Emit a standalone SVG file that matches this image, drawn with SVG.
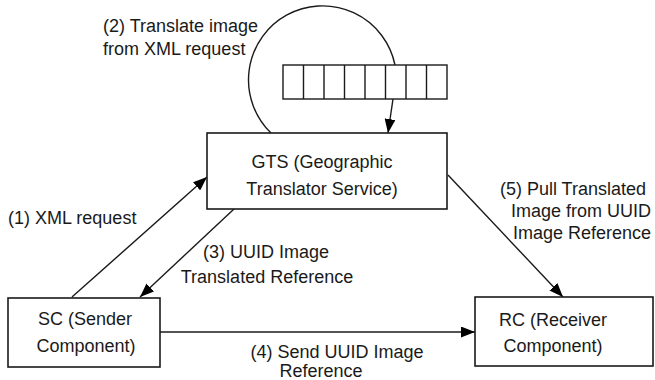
<svg xmlns="http://www.w3.org/2000/svg" width="655" height="380" viewBox="0 0 655 380">
<defs>
<marker id="ah" viewBox="0 0 14 11" refX="14" refY="5.5" markerWidth="14" markerHeight="11" markerUnits="userSpaceOnUse" orient="auto">
<path d="M0,0 L14,5.5 L0,11 Z" fill="#000"/>
</marker>
</defs>
<style>
text{font-family:"Liberation Sans",Arial,sans-serif;font-size:18px;fill:#1a1a1a}
.box{fill:#fff;stroke:#1a1a1a;stroke-width:1.6}
.c{text-anchor:middle}
.e{text-anchor:end}
.ln{fill:none;stroke:#1a1a1a;stroke-width:1.4}
.ar{fill:none;stroke:#1a1a1a;stroke-width:1.4;marker-end:url(#ah)}
</style>
<rect width="655" height="380" fill="#fff"/>
<g id="connectors">
<path class="ln" d="M271,133 A74,74 0 1 1 395,65"/>
<line class="ar" x1="393" y1="99" x2="388" y2="133"/>
<line class="ar" x1="72" y1="297" x2="207" y2="177"/>
<line class="ar" x1="234" y1="209" x2="140" y2="297"/>
<line class="ar" x1="160" y1="332" x2="475" y2="332"/>
<line class="ar" x1="448" y1="175" x2="563" y2="297"/>
</g>
<g id="queue">
<rect class="box" x="283" y="65" width="164" height="34" style="stroke-width:1.4"/>
<path class="ln" d="M303.5,65V99M324,65V99M344.5,65V99M365,65V99M385.5,65V99M406,65V99M426.5,65V99"/>
</g>
<g id="gts">
<rect class="box" x="207" y="133" width="240" height="76"/>
<text class="c" x="322" y="168">GTS (Geographic</text>
<text class="c" x="322" y="195">Translator Service)</text>
</g>
<g id="sc">
<rect class="box" x="8" y="298" width="152" height="69"/>
<text class="c" x="85" y="325">SC (Sender</text>
<text class="c" x="86" y="352">Component)</text>
</g>
<g id="rc">
<rect class="box" x="475" y="297" width="178" height="69"/>
<text class="c" x="553" y="326">RC (Receiver</text>
<text class="c" x="553" y="352">Component)</text>
</g>
<g id="labels">
<text x="103" y="32">(2) Translate image</text>
<text x="103" y="55">from XML request</text>
<text x="8" y="224">(1) XML request</text>
<text class="c" x="266" y="258">(3) UUID Image</text>
<text class="c" x="267" y="283">Translated Reference</text>
<text class="c" x="337" y="358">(4) Send UUID Image</text>
<text class="c" x="321" y="377">Reference</text>
<text class="e" x="646" y="195">(5) Pull Translated</text>
<text class="e" x="651" y="217">Image from UUID</text>
<text class="e" x="651" y="239">Image Reference</text>
</g>
</svg>
